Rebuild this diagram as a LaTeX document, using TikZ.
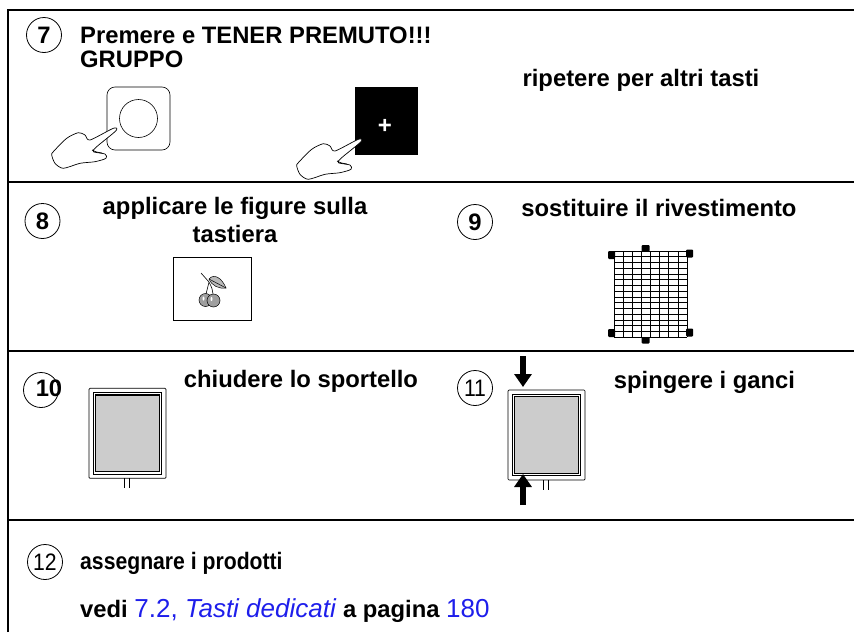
\documentclass[tikz,border=0pt]{standalone}
\usepackage{fontspec}
\setmainfont{Liberation Sans}
\newfontfamily\narrowfont[FakeStretch=0.89]{Liberation Sans}
\usetikzlibrary{arrows.meta,positioning}

\definecolor{linkblue}{RGB}{30,30,235}
\definecolor{panelgray}{RGB}{204,204,204}
\newcommand\stepfont{\fontsize{23.8}{24}\selectfont\bfseries}

\tikzset{
  hand/.pic={
    \draw[line width=0.7pt, fill=white, line join=round]
      plot[smooth cycle, tension=0.45] coordinates {
        (-62.7,21.7) (-49.3,8.3) (-37.7,2.7) (-31,5) (-26,10) (-2.7,-1.7)
        (0,0.7) (-19.3,16.7) (-22.7,21.7) (-11,24) (-10,28.3) (-21,31.7)
        (-36,33.3) (-52.7,38.3) (-61,33.3) (-64.3,25)};
    \draw[line width=0.7pt] (-24,20) .. controls (-20,22) .. (-14,23);
  },
  door/.pic={
    \draw[line width=0.7pt, rounded corners=1pt] (0,0) rectangle (77,90);
    \draw[line width=0.6pt] (4.3,4.4) rectangle (72.7,85.6);
    \draw[line width=1.3pt, fill=panelgray] (6.7,6.7) rectangle (70.3,83.3);
    \draw[line width=0.6pt] (35,90) -- (35,100) (40.3,90) -- (40.3,100);
  },
}

\begin{document}
\begin{tikzpicture}[x=1pt, y=-1pt,
    rule/.style={line width=2.6pt},
    num/.style={circle, draw, line width=0.8pt, minimum size=35pt, inner sep=0pt},
    txt/.style={inner sep=0pt, font=\stepfont},
    push/.style={line width=5.5pt, -{Triangle[width=17pt,length=13pt]}}]
  \useasboundingbox (0,0) rectangle (854,632);

  % table rules
  \draw[rule] (8,632) -- (8,10) -- (854,10);
  \draw[rule] (8,182) -- (854,182);
  \draw[rule] (8,351) -- (854,351);
  \draw[rule] (8,520) -- (854,520);

  % step 7
  \node[num, font=\stepfont] (n7) at (44,35) {7};
  \node[txt, anchor=north west, align=left] (t7) at (80,27) {Premere e TENER PREMUTO!!!\\GRUPPO};
  \node[txt, anchor=base] (t7b) at (641,86) {ripetere per altri tasti};
  \draw[line width=0.6pt, rounded corners=8pt] (107,87) rectangle (170,150);
  \draw[line width=0.6pt] (138.5,118.5) circle [radius=19pt];
  \pic at (116,130) {hand};
  \fill (355,87) rectangle (418,154.5);
  \node[inner sep=0pt, text=white, font=\fontsize{24}{24}\selectfont\bfseries] (plus) at (385,126) {+};
  \pic at (361,141) {hand};

  % step 8
  \node[num, font=\stepfont] (n8) at (42.5,221) {8};
  \node[txt, anchor=north, align=center, font=\fontsize{23.8}{28}\selectfont\bfseries] (t8) at (235,197.5) {applicare le figure sulla\\tastiera};
  \draw[line width=0.7pt] (173,257) rectangle (251,320);
  \draw[line width=0.5pt, fill=gray!55] (209,279) .. controls (214,273) and (222,278) .. (226,288)
    .. controls (219,289) and (212,286) .. (209,279);
  \draw[line width=0.5pt] (209,279) -- (226,288);
  \draw[line width=0.6pt] (201,273) -- (209,282) (206,294) .. controls (207,288) .. (209,282)
    (213,294) .. controls (212,288) .. (209,282);
  \draw[line width=0.5pt, fill=gray!75] (205.5,300) circle [radius=6.5pt];
  \draw[line width=0.5pt, fill=gray!75] (213.5,300.5) circle [radius=6.5pt];
  \fill[white] (203.5,298.5) ellipse [x radius=1pt, y radius=2pt]
    (211.5,299) ellipse [x radius=1pt, y radius=2pt];

  % step 9
  \node[num, font=\stepfont] (n9) at (475,222) {9};
  \node[txt, anchor=base] (t9) at (659,216) {sostituire il rivestimento};
  \foreach \i in {0,...,8}
    \draw[line width=0.6pt] ({614+\i*9.125},251) -- ++(0,86);
  \foreach \j in {0,...,15}
    \draw[line width=0.6pt] (614,{251+\j*5.733}) -- ++(73,0);
  \draw[line width=1pt] (614,{251+9*5.733}) -- ++(73,0);
  \fill[rounded corners=1pt] (608,251) rectangle (615,259)
    (686,249.5) rectangle (693,257.5) (641.5,245) rectangle (649.5,251.5)
    (608,329) rectangle (615,337) (686,328.5) rectangle (693,336.5)
    (641.5,337) rectangle (649.5,343.5);

  % step 10
  \node[num] (n10) at (41,390) {};
  \node[txt] (t10n) at (49,388) {10};
  \node[txt, anchor=base] (t10) at (301,387) {chiudere lo sportello};
  \pic at (89,388.3) {door};

  % step 11
  \node[num, font=\fontsize{23.8}{24}\narrowfont] (n11) at (475,388) {11};
  \node[txt, anchor=base] (t11) at (704.5,388) {spingere i ganci};
  \pic at (508,390) {door};
  \coordinate (topfrom) at (523,356);
  \coordinate (topto) at (523,387);
  \coordinate (botfrom) at (523,505);
  \coordinate (botto) at (523,474);
  \draw[push] (topfrom) -- (topto);
  \draw[push] (botfrom) -- (botto);

  % step 12
  \node[num, font=\fontsize{23.8}{24}\narrowfont] (n12) at (45,562) {12};
  \node[txt, anchor=base west, font=\fontsize{23.8}{24}\narrowfont\bfseries] (t12) at (80,569) {assegnare i prodotti};
  \node[txt, anchor=base west] (t12b) at (80,617)
    {vedi {\fontsize{26}{24}\mdseries\color{linkblue}7.2, \textit{Tasti dedicati}} a pagina {\fontsize{26}{24}\mdseries\color{linkblue}180}};
\end{tikzpicture}
\end{document}
